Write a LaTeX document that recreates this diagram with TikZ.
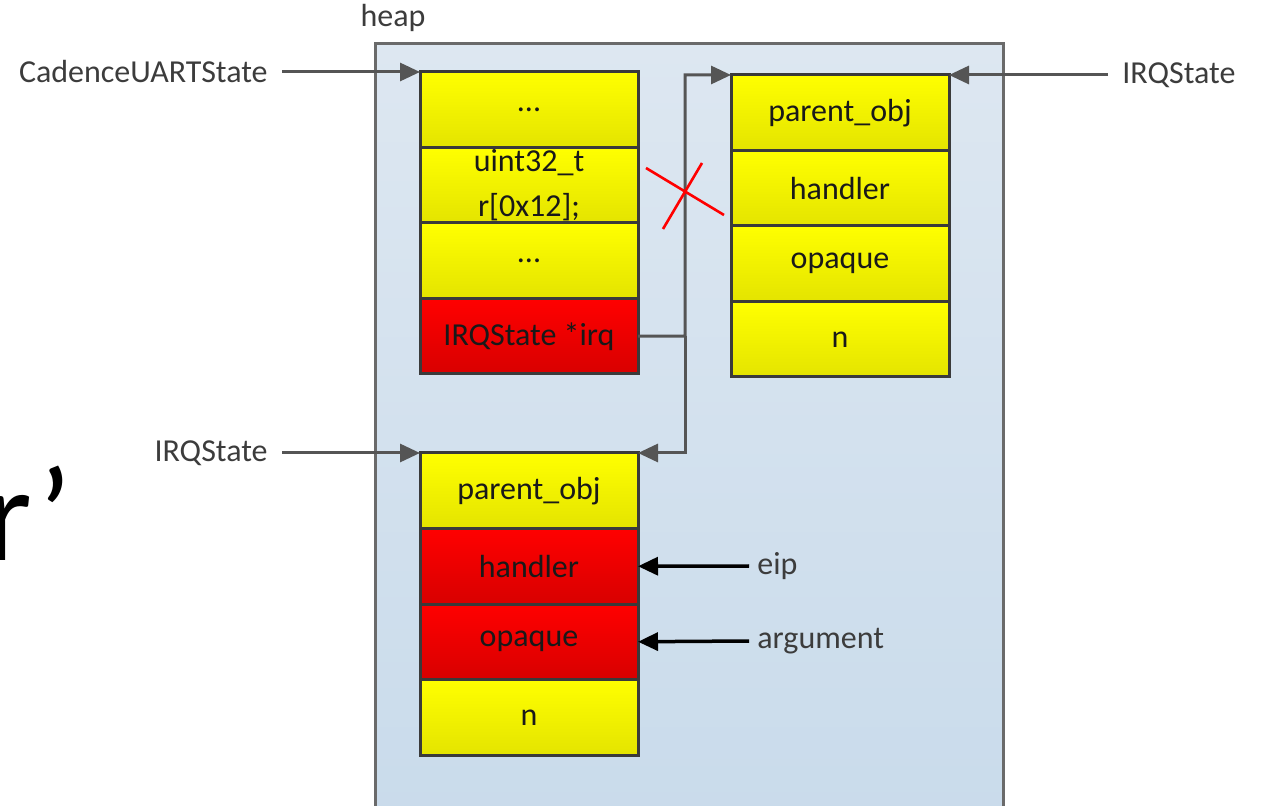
\documentclass[tikz,border=0pt]{standalone}
\usepackage{fontspec}
\setmainfont{Carlito}
\usepackage{xcolor}
\usetikzlibrary{arrows.meta}
\usetikzlibrary{positioning}
\definecolor{heaptop}{HTML}{DDE7F1}
\definecolor{heapbot}{HTML}{C9DBEB}
\definecolor{heapline}{HTML}{6A6A6A}
\definecolor{cellline}{HTML}{3A3A3A}
\definecolor{ytop}{HTML}{FFFF00}
\definecolor{ybot}{HTML}{E4E400}
\definecolor{rtop}{HTML}{FF0000}
\definecolor{rbot}{HTML}{D80000}
\definecolor{ptrgray}{HTML}{555555}
\definecolor{lblgray}{HTML}{3C3C3C}
\tikzset{
    cell/.style = {rectangle, draw=cellline, line width=1.5pt, minimum width=109pt, minimum height=37.75pt,
                   inner sep=0pt, outer sep=0pt, align=center, text=black!90, font=\fontsize{16}{22.5}\selectfont},
    ycell/.style = {cell, top color=ytop, bottom color=ybot},
    rcell/.style = {cell, top color=rtop, bottom color=rbot},
    heapbox/.style = {rectangle, draw=heapline, line width=1.5pt, top color=heaptop, bottom color=heapbot,
                      minimum width=314pt, minimum height=390pt, inner sep=0pt, outer sep=0pt},
    lbl/.style = {inner sep=7pt, text=lblgray, font=\fontsize{16}{19}\selectfont},
    note/.style = {lbl, inner sep=4pt},
    ptr/.style = {draw=ptrgray, line width=1.5pt, -{Triangle[length=10pt,width=9pt]}},
    tip/.style = {draw=black, line width=1.75pt, -{Triangle[length=10pt,width=9pt]}},
    cross/.style = {draw=red, line width=1.3pt}
}

\begin{document}
\begin{tikzpicture}[x=0.5pt,y=-0.5pt]
    \useasboundingbox (0,0) rectangle (1263,806);
    % slide text cut at the edge
    \node (frag) [anchor=base west, inner sep=0pt, font=\fontsize{67}{80}\selectfont] at (-15,560) {r’};

    \node (heap) [heapbox, anchor=north west] at (375,44) {};
    \node (heaplbl) [lbl] at (393,18) {heap};

    % CadenceUARTState
    \node (c1) [ycell, anchor=north west] at (420,72) {...};
    \node (c2) [ycell, below=0pt of c1] {uint32\_t\\r[0x12];};
    \node (c3) [ycell, below=0pt of c2] {...};
    \node (irq) [rcell, below=0pt of c3] {IRQState *irq};

    % IRQState (right)
    \node (ap) [ycell, anchor=north west] at (731,75) {parent\_obj};
    \node (ah) [ycell, below=0pt of ap] {handler};
    \node (ao) [ycell, below=0pt of ah] {opaque};
    \node (an) [ycell, below=0pt of ao] {n};

    % IRQState (fake)
    \node (bp) [ycell, anchor=north west] at (420,453) {parent\_obj};
    \node (bh) [rcell, below=0pt of bp] {handler};
    \node (bo) [rcell, below=0pt of bh] {opaque};
    \node (bn) [ycell, below=0pt of bo] {n};

    \node (cus) [lbl, anchor=east] at (282,72) {CadenceUARTState};
    \node (irqr) [lbl, anchor=west] at (1108,75) {IRQState};
    \node (irql) [lbl, anchor=east] at (282,453) {IRQState};
    \node (eip) [note, anchor=west] at (749,566) {eip};
    \node (arg) [note, anchor=west] at (749,641) {argument};

    \draw[ptr] (cus.east) -- (c1.north west);
    \draw[ptr] (irqr.west) -- (ap.north east);
    \draw[ptr] (irql.east) -- (bp.north west);

    \coordinate (jn) at (685,336);
    \draw[ptr] (irq.east) -- (jn) |- (ap.north west);
    \draw[ptr] (jn) |- (bp.north east);
    \draw[cross] (646,168) -- (724,215) (702,163) -- (663,229);

    \draw[tip] (eip.west) -- (bh.east);
    \draw[tip] (arg.west) -- (bo.east);
\end{tikzpicture}
\end{document}
